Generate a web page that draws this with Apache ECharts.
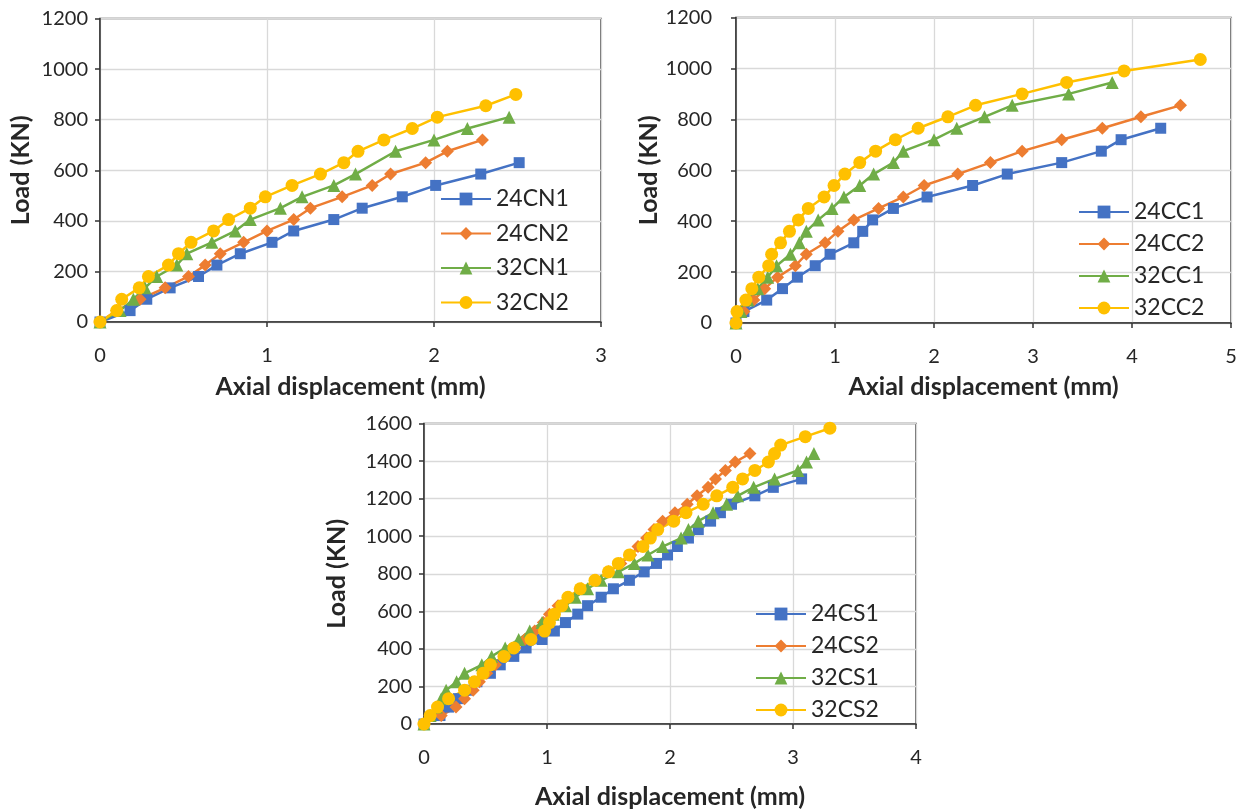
<!DOCTYPE html>
<html>
<head>
<meta charset="utf-8">
<script src="https://cdn.jsdelivr.net/npm/echarts@6/dist/echarts.min.js"></script>
<style>
html,body{margin:0;padding:0;background:#fff;}
#main{width:1245px;height:812px;}
</style>
</head>
<body>
<div id="main"></div>
<script>
// ---------- Data (Load in KN, displacement in mm) ----------
// Chart 1: CN
const cn24_1X = [0, 0.18, 0.28, 0.42, 0.59, 0.70, 0.84, 1.03, 1.16, 1.40, 1.57, 1.81, 2.01, 2.28, 2.51];
const cn24_1Y = [0, 45, 90, 135, 180, 225, 270, 315, 360, 405, 450, 495, 540, 585, 630];
const cn24_2X = [0, 0.10, 0.24, 0.39, 0.53, 0.63, 0.72, 0.86, 1.00, 1.16, 1.26, 1.45, 1.63, 1.74, 1.95, 2.08, 2.29];
const cn24_2Y = [0, 45, 90, 135, 180, 225, 270, 315, 360, 405, 450, 495, 540, 585, 630, 675, 720];
const cn32_1X = [0, 0.12, 0.20, 0.27, 0.34, 0.46, 0.52, 0.67, 0.81, 0.90, 1.08, 1.21, 1.40, 1.53, 1.77, 2.00, 2.20, 2.45];
const cn32_1Y = [0, 45, 90, 135, 180, 225, 270, 315, 360, 405, 450, 495, 540, 585, 675, 720, 765, 810];
const cn32_2X = [0, 0.10, 0.13, 0.235, 0.29, 0.41, 0.47, 0.545, 0.68, 0.77, 0.90, 0.99, 1.15, 1.32, 1.46, 1.545, 1.70, 1.87, 2.02, 2.31, 2.49];
const cn32_2Y = [0, 45, 90, 135, 180, 225, 270, 315, 360, 405, 450, 495, 540, 585, 630, 675, 720, 765, 810, 855, 900];

// Chart 2: CC
const cc24_1X = [0, 0.08, 0.31, 0.47, 0.62, 0.80, 0.95, 1.19, 1.28, 1.38, 1.59, 1.93, 2.39, 2.74, 3.29, 3.69, 3.89, 4.29];
const cc24_1Y = [0, 45, 90, 135, 180, 225, 270, 315, 360, 405, 450, 495, 540, 585, 630, 675, 720, 765];
const cc24_2X = [0, 0.08, 0.18, 0.29, 0.42, 0.60, 0.71, 0.90, 1.03, 1.19, 1.44, 1.69, 1.90, 2.24, 2.57, 2.89, 3.29, 3.70, 4.09, 4.49];
const cc24_2Y = [0, 45, 90, 135, 180, 225, 270, 315, 360, 405, 450, 495, 540, 585, 630, 675, 720, 765, 810, 855];
const cc32_1X = [0, 0.05, 0.12, 0.22, 0.32, 0.41, 0.55, 0.64, 0.71, 0.83, 0.97, 1.09, 1.25, 1.39, 1.59, 1.69, 2.00, 2.23, 2.51, 2.79, 3.36, 3.80];
const cc32_1Y = [0, 45, 90, 135, 180, 225, 270, 315, 360, 405, 450, 495, 540, 585, 630, 675, 720, 765, 810, 855, 900, 945];
const cc32_2X = [0, 0.01, 0.10, 0.16, 0.23, 0.33, 0.36, 0.45, 0.54, 0.63, 0.73, 0.89, 0.99, 1.10, 1.25, 1.41, 1.61, 1.84, 2.14, 2.42, 2.89, 3.34, 3.92, 4.69];
const cc32_2Y = [0, 45, 90, 135, 180, 225, 270, 315, 360, 405, 450, 495, 540, 585, 630, 675, 720, 765, 810, 855, 900, 945, 990, 1035];

// Chart 3: CS
const cs24_1X = [0, 0.13, 0.20, 0.28, 0.36, 0.43, 0.54, 0.62, 0.73, 0.83, 0.96, 1.06, 1.15, 1.25, 1.33, 1.44, 1.54, 1.67, 1.79, 1.89, 1.98, 2.06, 2.15, 2.23, 2.33, 2.41, 2.50, 2.69, 2.84, 3.07];
const cs24_1Y = [0, 45, 90, 135, 180, 225, 270, 315, 360, 405, 450, 495, 540, 585, 630, 675, 720, 765, 810, 855, 900, 945, 990, 1035, 1080, 1125, 1170, 1215, 1260, 1305];
const cs24_2X = [0, 0.14, 0.26, 0.33, 0.40, 0.45, 0.51, 0.58, 0.66, 0.74, 0.82, 0.90, 0.97, 1.02, 1.09, 1.18, 1.28, 1.40, 1.50, 1.60, 1.68, 1.74, 1.81, 1.87, 1.94, 2.04, 2.14, 2.22, 2.31, 2.37, 2.45, 2.53, 2.65];
const cs24_2Y = [0, 45, 90, 135, 180, 225, 270, 315, 360, 405, 450, 495, 540, 585, 630, 675, 720, 765, 810, 855, 900, 945, 990, 1035, 1080, 1125, 1170, 1215, 1260, 1305, 1350, 1395, 1440];
const cs32_1X = [0, 0.05, 0.10, 0.14, 0.18, 0.265, 0.33, 0.47, 0.55, 0.66, 0.77, 0.86, 0.96, 1.05, 1.15, 1.23, 1.33, 1.44, 1.58, 1.71, 1.82, 1.94, 2.09, 2.15, 2.23, 2.35, 2.46, 2.55, 2.68, 2.85, 3.04, 3.11, 3.17];
const cs32_1Y = [0, 45, 90, 135, 180, 225, 270, 315, 360, 405, 450, 495, 540, 585, 630, 675, 720, 765, 810, 855, 900, 945, 990, 1035, 1080, 1125, 1170, 1215, 1260, 1305, 1350, 1395, 1440];
const cs32_2X = [0, 0.05, 0.11, 0.20, 0.33, 0.41, 0.48, 0.54, 0.65, 0.73, 0.87, 0.98, 1.02, 1.06, 1.12, 1.17, 1.27, 1.39, 1.50, 1.58, 1.67, 1.78, 1.84, 1.90, 2.03, 2.13, 2.27, 2.38, 2.51, 2.59, 2.69, 2.80, 2.85, 2.90, 3.10, 3.30];
const cs32_2Y = [0, 45, 90, 135, 180, 225, 270, 315, 360, 405, 450, 495, 540, 585, 630, 675, 720, 765, 810, 855, 900, 945, 990, 1035, 1080, 1125, 1170, 1215, 1260, 1305, 1350, 1395, 1440, 1485, 1530, 1575];

const namesCN = ['24CN1', '24CN2', '32CN1', '32CN2'];
const namesCC = ['24CC1', '24CC2', '32CC1', '32CC2'];
const namesCS = ['24CS1', '24CS2', '32CS1', '32CS2'];
const xAxisTitle = 'Axial displacement (mm)';
const yAxisTitle = 'Load (KN)';

// ---------- Styling ----------
const FONT = 'Lato';
const TXT = '#262626';
const colors = ['#4472C4', '#ED7D31', '#70AD47', '#FFC000'];
const symbols = ['rect', 'diamond', 'triangle', 'circle'];
const symSizes = [11, 13, 13, 13];
const zip = (xs, ys) => xs.map((x, i) => [x, ys[i]]);

const grids = [
  {left: 100, top: 18.5, width: 501, height: 303.5},
  {left: 736, top: 17.5, width: 495, height: 305.5},
  {left: 424, top: 423.5, width: 492, height: 300.5}
];
const xCfg = [
  {max: 3, nameGap: 52, yMargin: 12},
  {max: 5, nameGap: 51, yMargin: 24},
  {max: 4, nameGap: 60, yMargin: 12}
];
const yCfg = [
  {max: 1200, nameGap: 67},
  {max: 1200, nameGap: 66},
  {max: 1600, nameGap: 75}
];

const xAxes = xCfg.map((c, i) => ({
  type: 'value', gridIndex: i, min: 0, max: c.max, interval: 1,
  name: xAxisTitle, nameLocation: 'middle', nameGap: c.nameGap,
  nameTextStyle: {fontFamily: FONT, fontWeight: 'bold', fontSize: 25, color: TXT},
  axisLine: {show: true, onZero: false, lineStyle: {color: '#333', width: 1.5}},
  axisTick: {show: true, inside: false, length: 5, lineStyle: {color: '#333', width: 1.5}},
  axisLabel: {fontFamily: FONT, fontSize: 20, color: TXT, margin: 24, formatter: v => String(v)},
  splitLine: {show: true, lineStyle: {color: '#d9d9d9', width: 1.3}}
}));
const yAxes = yCfg.map((c, i) => ({
  type: 'value', gridIndex: i, min: 0, max: c.max, interval: 200,
  name: yAxisTitle, nameLocation: 'middle', nameGap: c.nameGap, nameRotate: 90,
  nameTextStyle: {fontFamily: FONT, fontWeight: 'bold', fontSize: 25, color: TXT},
  axisLine: {show: true, onZero: false, lineStyle: {color: '#333', width: 1.5}},
  axisTick: {show: true, inside: false, length: 5, lineStyle: {color: '#333', width: 1.5}},
  axisLabel: {fontFamily: FONT, fontSize: 20, color: TXT, margin: xCfg[i].yMargin, formatter: v => String(v)},
  splitLine: {show: true, lineStyle: {color: '#d9d9d9', width: 1.3}}
}));

function mkSeries(name, xs, ys, k, gi) {
  return {
    name: name, type: 'line', xAxisIndex: gi, yAxisIndex: gi,
    data: zip(xs, ys),
    symbol: symbols[k], symbolSize: symSizes[k],
    showAllSymbol: true,
    lineStyle: {color: colors[k], width: 2.5},
    itemStyle: {color: colors[k], borderWidth: 0},
    emphasis: {disabled: true},
    animation: false
  };
}

const series = [
  mkSeries(namesCN[0], cn24_1X, cn24_1Y, 0, 0),
  mkSeries(namesCN[1], cn24_2X, cn24_2Y, 1, 0),
  mkSeries(namesCN[2], cn32_1X, cn32_1Y, 2, 0),
  mkSeries(namesCN[3], cn32_2X, cn32_2Y, 3, 0),
  mkSeries(namesCC[0], cc24_1X, cc24_1Y, 0, 1),
  mkSeries(namesCC[1], cc24_2X, cc24_2Y, 1, 1),
  mkSeries(namesCC[2], cc32_1X, cc32_1Y, 2, 1),
  mkSeries(namesCC[3], cc32_2X, cc32_2Y, 3, 1),
  mkSeries(namesCS[0], cs24_1X, cs24_1Y, 0, 2),
  mkSeries(namesCS[1], cs24_2X, cs24_2Y, 1, 2),
  mkSeries(namesCS[2], cs32_1X, cs32_1Y, 2, 2),
  mkSeries(namesCS[3], cs32_2X, cs32_2Y, 3, 2)
];

function mkLegend(names, left, top, gap) {
  return {
    orient: 'vertical', left: left, top: top, padding: 0,
    itemWidth: 50, itemHeight: 16, itemGap: gap,
    textStyle: {fontFamily: FONT, fontSize: 23, color: TXT},
    data: names, selectedMode: false
  };
}

const option = {
  backgroundColor: '#ffffff',
  animation: false,
  grid: grids.map(g => Object.assign({show: true, borderColor: '#404040', borderWidth: 1.5, backgroundColor: 'transparent'}, g)),
  xAxis: xAxes,
  yAxis: yAxes,
  legend: [
    mkLegend(namesCN, 440, 187.5, 11.5),
    mkLegend(namesCC, 1078, 200.5, 9),
    mkLegend(namesCS, 755, 602.5, 9)
  ],
  series: series
};

const chart = echarts.init(document.getElementById('main'), null, {renderer: 'canvas'});
chart.setOption(option);
</script>
</body>
</html>
